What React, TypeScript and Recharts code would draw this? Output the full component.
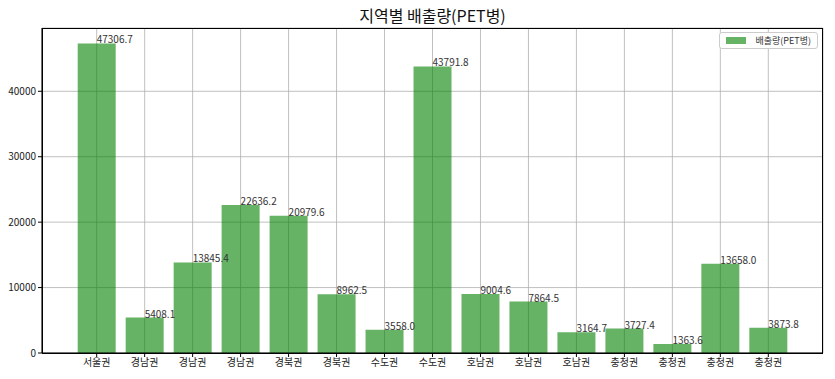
import { BarChart, Bar, XAxis, YAxis, CartesianGrid, LabelList } from "recharts";

const regions = [
  "서울권", "경남권", "경남권", "경남권", "경북권", "경북권", "수도권", "수도권",
  "호남권", "호남권", "호남권", "충청권", "충청권", "충청권", "충청권",
];
const emissions = [
  47306.7, 5408.1, 13845.4, 22636.2, 20979.6, 8962.5, 3558.0, 43791.8,
  9004.6, 7864.5, 3164.7, 3727.4, 1363.6, 13658.0, 3873.8,
];
const yTicks = [0, 10000, 20000, 30000, 40000];
const seriesName = "배출량(PET병)";

const data = regions.map((r, i) => ({ idx: i, region: r, value: emissions[i] }));
const xTicks = regions.map((_, i) => i);

const FONT = "'Noto Sans CJK KR', 'Noto Sans', sans-serif";
const BAR_COLOR = "rgba(0,128,0,0.6)";

const ValueLabel = (props: any) => {
  const { x, y, width, value } = props;
  return (
    <text x={x + width / 2} y={y} fontSize={10} fill="#333" fontFamily={FONT} textAnchor="start">
      {Number(value).toFixed(1)}
    </text>
  );
};

export default function App() {
  return (
    <div style={{ position: "absolute", left: 0, top: 0, width: 835, height: 379, background: "#fff" }}>
      <div
        style={{
          position: "absolute",
          top: 3,
          left: 42,
          width: 781,
          textAlign: "center",
          fontSize: 16,
          fontFamily: FONT,
          color: "#111",
        }}
      >
        지역별 배출량(PET병)
      </div>
      <BarChart width={835} height={379} data={data} margin={{ top: 28, right: 12, bottom: 0, left: 0 }}>
        <CartesianGrid stroke="#b0b0b0" strokeWidth={0.8} />
        <XAxis
          dataKey="idx"
          type="number"
          domain={[-1.14, 15.14]}
          ticks={xTicks}
          interval={0}
          tickFormatter={(i: number) => regions[i]}
          height={26}
          tickSize={4}
          stroke="#000"
          tick={{ fill: "#222", fontSize: 10, fontFamily: FONT }}
          allowDataOverflow
        />
        <YAxis
          domain={[0, 49672]}
          ticks={yTicks}
          width={42}
          tickSize={4}
          stroke="#000"
          tick={{ fill: "#222", fontSize: 10, fontFamily: FONT }}
          allowDataOverflow
        />
        <Bar dataKey="value" name={seriesName} fill={BAR_COLOR} barSize={38} isAnimationActive={false}>
          <LabelList dataKey="value" content={<ValueLabel />} />
        </Bar>
      </BarChart>
      <div
        style={{
          position: "absolute",
          left: 42,
          top: 28,
          width: 781,
          height: 326,
          border: "1px solid #000",
          boxSizing: "border-box",
          pointerEvents: "none",
        }}
      />
      <div
        style={{
          position: "absolute",
          right: 17,
          top: 32,
          border: "1px solid #ccc",
          borderRadius: 3,
          background: "#fff",
          padding: "1px 6px",
          display: "flex",
          alignItems: "center",
          fontSize: 9,
          fontFamily: FONT,
          color: "#333",
        }}
      >
        <span style={{ display: "inline-block", width: 20, height: 7, background: BAR_COLOR, marginRight: 9 }} />
        {seriesName}
      </div>
    </div>
  );
}
